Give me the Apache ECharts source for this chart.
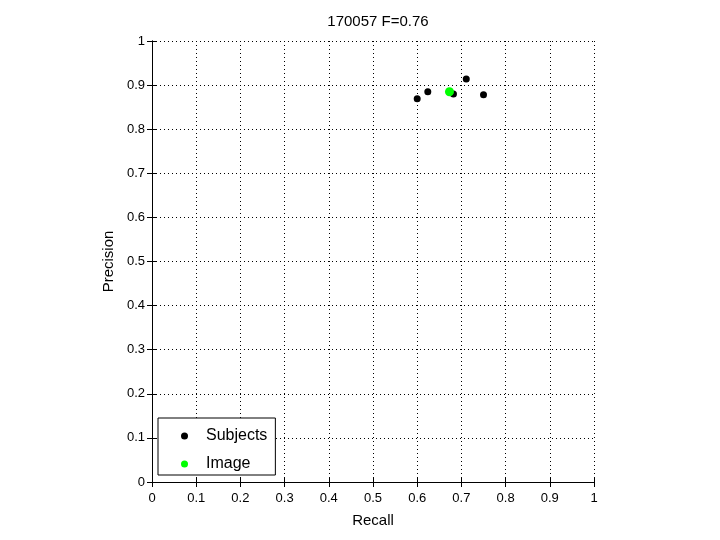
<!DOCTYPE html>
<html>
<head>
<meta charset="utf-8">
<script src="https://cdn.jsdelivr.net/npm/echarts@6/dist/echarts.min.js"></script>
<style>html,body{margin:0;padding:0;background:#fff;}#c{width:720px;height:540px;}</style>
</head>
<body>
<div id="c"></div>
<script>
const titleText = '170057 F=0.76';
const subjectsRecall = [0.600, 0.624, 0.711, 0.682, 0.750];
const subjectsPrecision = [0.869, 0.885, 0.914, 0.880, 0.878];
const imageRecall = [0.673];
const imagePrecision = [0.885];
const seriesNames = ['Subjects', 'Image'];

const font = 'Liberation Sans, Arial, sans-serif';
const fmt = v => String(+(+v).toFixed(1));
const zip = (a, b) => a.map((x, i) => [x, b[i]]);

const chart = echarts.init(document.getElementById('c'), null, {renderer: 'canvas'});
const baseAxis = {
  min: 0, max: 1, interval: 0.1,
  axisLine: {show: true, lineStyle: {color: '#000', width: 1}},
  axisTick: {show: true, inside: true, length: 5, lineStyle: {color: '#000'}},
  axisLabel: {show: true, color: '#000', fontSize: 13, fontFamily: font, formatter: fmt, margin: 7},
  splitLine: {show: true, lineStyle: {color: '#000', type: [1, 3], width: 1}}
};
chart.setOption({
  backgroundColor: '#fff',
  animation: false,
  title: {
    text: titleText, left: 373, top: 9, textAlign: 'center',
    textStyle: {fontSize: 15, fontWeight: 'normal', color: '#000', fontFamily: font}
  },
  grid: {left: 152, right: 126, top: 41, bottom: 58, show: false},
  xAxis: [
    Object.assign({}, baseAxis, {type: 'value', position: 'bottom', name: 'Recall', nameLocation: 'middle', nameGap: 31,
      axisLabel: Object.assign({}, baseAxis.axisLabel, {margin: 10}),
      nameTextStyle: {fontSize: 15, color: '#000', fontFamily: font}}),
    Object.assign({}, baseAxis, {type: 'value', position: 'top', axisLabel: {show: false}, splitLine: {show: false}})
  ],
  yAxis: [
    Object.assign({}, baseAxis, {type: 'value', position: 'left', name: 'Precision', nameLocation: 'middle', nameGap: 33,
      nameTextStyle: {fontSize: 15, color: '#000', fontFamily: font}}),
    Object.assign({}, baseAxis, {type: 'value', position: 'right', axisLabel: {show: false}, splitLine: {show: false}})
  ],
  legend: {
    orient: 'vertical', left: 158, top: 418,
    padding: [10, 8, 3, 23], itemGap: 12,
    borderColor: '#000', borderWidth: 1, backgroundColor: '#fff', borderRadius: 0,
    itemWidth: 7, itemHeight: 7,
    textStyle: {fontSize: 16, lineHeight: 16, color: '#000', fontFamily: font, padding: [0, 0, 0, 13]},
    data: [
      {name: seriesNames[0], icon: 'circle', itemStyle: {color: '#000'}},
      {name: seriesNames[1], icon: 'circle', itemStyle: {color: '#00ff00'}}
    ]
  },
  series: [
    {name: seriesNames[0], type: 'scatter', data: zip(subjectsRecall, subjectsPrecision), symbolSize: 7,
      itemStyle: {color: '#000', opacity: 1}},
    {name: seriesNames[1], type: 'scatter', data: zip(imageRecall, imagePrecision), symbolSize: 9,
      itemStyle: {color: '#00ff00', opacity: 1}}
  ]
});
</script>
</body>
</html>
